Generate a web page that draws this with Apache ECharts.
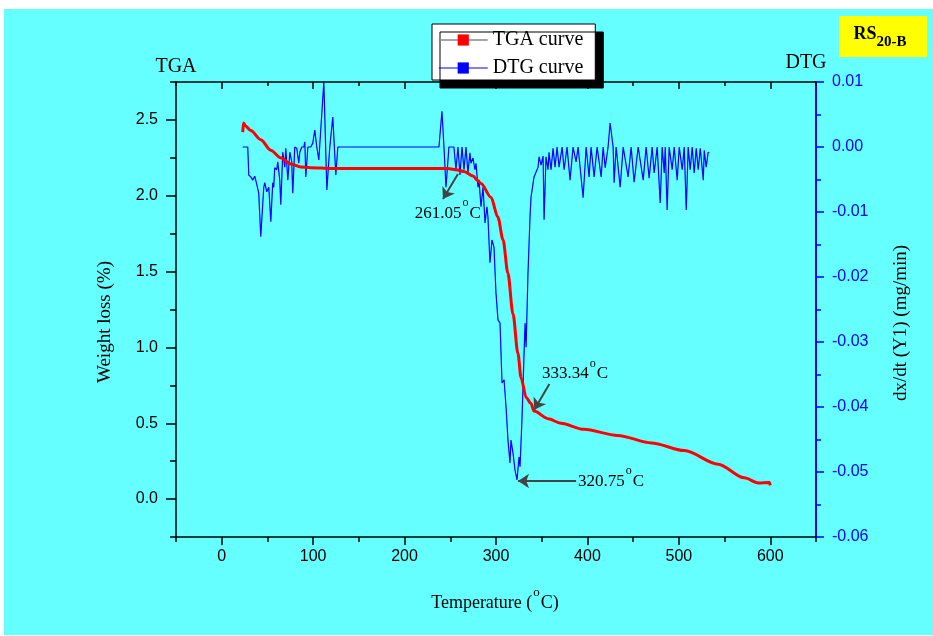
<!DOCTYPE html>
<html>
<head>
<meta charset="utf-8">
<title>TGA / DTG - RS20-B</title>
<script src="https://cdn.jsdelivr.net/npm/echarts@6/dist/echarts.min.js"></script>
<style>
  html, body { margin: 0; padding: 0; background: #ffffff; }
  .tga-dtg-container { position: relative; width: 933px; height: 636px; }
  .tga-dtg-bg { position: absolute; left: 4px; top: 9px; right: 0; bottom: 1px; background: #66ffff; }
  .tga-dtg-echarts { position: absolute; left: 0; top: 0; width: 933px; height: 636px; }
</style>
</head>
<body>
<div class="tga-dtg-container">
  <div class="tga-dtg-bg"></div>
  <div class="tga-dtg-echarts" id="chart"></div>
</div>
<script>
  // TGA curve: temperature (oC) / weight loss (%)
  const tgaTemp = [23, 23.8, 26, 31.8, 42.7, 53.6, 64.5, 75.5, 86.4, 97, 120, 160, 200, 247, 258, 265, 275, 280, 283.6,
    294.5, 302, 307.7, 313, 318.6, 324, 327.4, 333, 338.3, 341.6, 357, 371, 396, 433, 470, 506, 543, 571.5, 587, 599, 600];
  const tgaWeight = [2.42, 2.48, 2.46, 2.43, 2.37, 2.30, 2.25, 2.21, 2.19, 2.185, 2.18, 2.18, 2.18, 2.18, 2.17, 2.16, 2.13, 2.10, 2.08,
    1.99, 1.86, 1.71, 1.49, 1.22, 0.96, 0.80, 0.67, 0.63, 0.58, 0.53, 0.50, 0.46, 0.42, 0.37, 0.32, 0.23, 0.14, 0.106, 0.11, 0.09];

  // DTG curve: temperature (oC) / dx/dt (mg/min)
  const dtgTemp = [23, 28.5, 29.6, 31.8, 33.9, 36.1, 38.3, 40.5, 42.7, 46, 47.1, 49.3, 51.5, 53.7, 55.8, 56.9, 58, 60.2, 61.3,
    63.5, 64.6, 66.8, 69, 70.1, 72.3, 74.5, 76.6, 77.7, 79.9, 82.1, 84.3, 85.4, 87.6, 89.8, 90.9, 92, 94.2, 97.4, 99.6, 101.8,
    104, 106.2, 111.7, 115, 118.2, 121.5, 124.8, 127, 237.6, 240.9, 243.1, 245.3, 248.5, 254, 256.2, 258.4, 260.6, 262.8,
    265, 267.2, 269.3, 271.5, 272.6, 274.8, 277, 278.1, 280.3, 281.4, 283.6, 285.8, 288, 290.1, 291.2, 293.4, 295.6, 297.8,
    300, 302.2, 304.4, 306.6, 308.8, 311, 313.1, 315.3, 316.4, 318.6, 320.8, 323, 325.2, 326.3, 328.5, 330.7, 331.8, 332.9,
    335, 337.2, 338.3, 341.6, 346, 347.1, 349.3, 351.5, 352.6, 354.7, 356.9, 358, 360.2, 362.4, 364.6, 366.8, 369, 372.3,
    374.5, 377.7, 381, 384.3, 387.6, 389.8, 395.3, 398.6, 401.8, 404, 407.3, 410.6, 415, 417.2, 419.4, 422.6, 424.8, 428.1,
    429.2, 431.4, 435.8, 439.1, 444.5, 447.8, 451.1, 455.5, 461, 464.2, 467.5, 470.8, 473, 476.3, 479.6, 481.8, 484, 485.1,
    487.2, 489.4, 492.7, 494.9, 498.2, 500.4, 503.7, 505.9, 508.1, 510.2, 512.4, 514.6, 516.8, 519, 521.2, 523.4, 526.7,
    527.8, 529.9, 532.1, 533.2];
  const dtgRate = [0, 0, -0.0043, -0.0046, -0.0051, -0.0045, -0.0057, -0.0071, -0.0138, -0.0062, -0.0055, -0.0069, -0.0062,
    -0.0115, -0.0055, -0.0062, -0.0032, -0.0035, -0.0023, -0.0051, -0.0089, -0.0008, -0.0031, -0.0002, -0.0051, -0.0008,
    -0.0023, -0.0071, 0, -0.0002, -0.0025, -0.0008, 0, 0, 0.0008, -0.0046, 0, 0, 0.0006, 0.0026, 0, -0.002, 0.01, -0.0066,
    0, 0.0046, -0.0043, 0, 0, 0.0055, 0, -0.0062, 0, 0, -0.0035, 0, -0.0043, 0, -0.0035, 0, -0.004, -0.0009, -0.0025,
    -0.0017, -0.0035, -0.0025, -0.0062, -0.0051, -0.0092, -0.0062, -0.0117, -0.0092, -0.0108, -0.0178, -0.0143, -0.0154,
    -0.0225, -0.0266, -0.0271, -0.0363, -0.0358, -0.04, -0.0451, -0.0486, -0.0451, -0.0471, -0.0497, -0.0512, -0.0477,
    -0.0492, -0.0415, -0.0317, -0.0271, -0.0308, -0.0194, -0.0108, -0.0077, -0.0046, -0.0031, -0.0015, -0.0028, -0.0014,
    -0.0112, -0.0015, -0.0035, -0.0008, -0.0035, -0.0002, -0.0031, 0, -0.0031, 0, -0.0035, 0, -0.0051, 0, -0.0023, 0,
    -0.0078, 0, -0.0046, 0, -0.0046, 0, -0.0046, 0, -0.0032, 0, 0.0037, 0, -0.0055, 0, -0.0062, 0, -0.0046, 0, -0.0054,
    0, -0.0051, 0, -0.0048, 0, -0.004, 0, -0.0086, 0, -0.004, 0, -0.0097, 0, -0.0035, 0, -0.0051, 0, -0.0035, 0, -0.0097,
    0, -0.0035, 0, -0.004, -0.0002, -0.0035, -0.0002, -0.0051, -0.0005, -0.0031, -0.0008, -0.0009];

  // axis ticks
  const tempTicks = [0, 100, 200, 300, 400, 500, 600];
  const tempMinorTicks = [-50, 50, 150, 250, 350, 450, 550, 650];
  const weightTicks = [0, 0.5, 1, 1.5, 2, 2.5];
  const weightMinorTicks = [-0.25, 0.25, 0.75, 1.25, 1.75, 2.25, 2.75];
  const rateTicks = [-0.06, -0.05, -0.04, -0.03, -0.02, -0.01, 0, 0.01];
  const rateMinorTicks = [-0.055, -0.045, -0.035, -0.025, -0.015, -0.005, 0.005];

  // peak annotations (temperature, weight loss)
  const peakLabels = ['261.05', '333.34', '320.75'];
  const arrowFrom = [[258.4, 2.143], [358.4, 0.759], [387.6, 0.119]];
  const arrowTo = [[242, 1.978], [341.9, 0.589], [324.1, 0.119]];
  const labelAt = [[247.4, 1.885], [350.4, 0.827], [389.8, 0.119]];

  const serif = '"Liberation Serif", "Times New Roman", serif';
  const sans = '"Liberation Sans", Arial, sans-serif';

  const myChart = echarts.init(document.getElementById('chart'), null, { renderer: 'canvas' });

  const xBase = {
    type: 'value', min: -50, max: 650,
    splitLine: { show: false },
  };
  const yBase = { type: 'value', splitLine: { show: false } };
  const blackLine = { show: true, onZero: false, lineStyle: { color: '#000000', width: 1.5 } };
  const blueLine = { show: true, onZero: false, lineStyle: { color: '#0000ff', width: 2 } };
  const noLine = { show: false, onZero: false };

  const supRich = {
    n: { fontFamily: serif, fontSize: 17, fill: '#000000' },
    s: { fontFamily: serif, fontSize: 12, fill: '#000000', padding: [0, 1, 20, 1] },
  };

  myChart.setOption({
    animation: false,
    grid: { left: 176, right: 117, top: 82, bottom: 99 },
    legend: {
      orient: 'vertical',
      left: 432,
      top: 24,
      padding: [6, 12, 2, 6],
      itemWidth: 49,
      itemHeight: 14,
      itemGap: 8,
      backgroundColor: '#ffffff',
      borderColor: '#000000',
      borderWidth: 1,
      shadowColor: '#000000',
      shadowBlur: 0,
      shadowOffsetX: 8,
      shadowOffsetY: 8,
      textStyle: { fontFamily: serif, fontSize: 20, color: '#000000', lineHeight: 16 },
      data: [
        { name: 'TGA curve', itemStyle: { color: '#ff0000' }, lineStyle: { color: '#888888', width: 1.5 } },
        { name: 'DTG curve', itemStyle: { color: '#0000ff' }, lineStyle: { color: '#0000ff', width: 1 } },
      ],
    },
    xAxis: [
      {
        ...xBase, position: 'bottom',
        axisLine: blackLine,
        axisTick: { customValues: tempTicks, length: 8, lineStyle: { color: '#000000', width: 1.5 } },
        axisLabel: { customValues: tempTicks, margin: 12, fontFamily: sans, fontSize: 16, color: '#000000' },
      },
      {
        ...xBase, position: 'bottom',
        axisLine: noLine,
        axisTick: { customValues: tempMinorTicks, length: 5, lineStyle: { color: '#000000', width: 1.5 } },
        axisLabel: { show: false },
      },
      {
        ...xBase, position: 'top',
        axisLine: blackLine,
        axisTick: { customValues: tempTicks, inside: true, length: 7, lineStyle: { color: '#000000', width: 1.5 } },
        axisLabel: { show: false },
      },
      {
        ...xBase, position: 'top',
        axisLine: noLine,
        axisTick: { customValues: tempMinorTicks, inside: true, length: 4, lineStyle: { color: '#000000', width: 1.5 } },
        axisLabel: { show: false },
      },
    ],
    yAxis: [
      {
        ...yBase, position: 'left', min: -0.25, max: 2.75,
        axisLine: blackLine,
        axisTick: { customValues: weightTicks, length: 10, lineStyle: { color: '#000000', width: 1.5 } },
        axisLabel: {
          customValues: weightTicks, margin: 18, fontFamily: sans, fontSize: 16, color: '#000000',
          formatter: (v) => Number(v).toFixed(1),
        },
      },
      {
        ...yBase, position: 'left', min: -0.25, max: 2.75,
        axisLine: noLine,
        axisTick: { customValues: weightMinorTicks, length: 6, lineStyle: { color: '#000000', width: 1.5 } },
        axisLabel: { show: false },
      },
      {
        ...yBase, position: 'right', min: -0.06, max: 0.01,
        axisLine: blueLine,
        axisTick: { customValues: rateTicks, length: 8, lineStyle: { color: '#0000ff', width: 1.5 } },
        axisLabel: {
          customValues: rateTicks, margin: 16, fontFamily: sans, fontSize: 16, color: '#0000ff',
          formatter: (v) => Number(v).toFixed(2),
        },
      },
      {
        ...yBase, position: 'right', min: -0.06, max: 0.01,
        axisLine: noLine,
        axisTick: { customValues: rateMinorTicks, length: 5, lineStyle: { color: '#0000ff', width: 1.5 } },
        axisLabel: { show: false },
      },
    ],
    series: [
      {
        name: 'DTG curve',
        type: 'line',
        xAxisIndex: 0,
        yAxisIndex: 2,
        data: dtgTemp.map((t, i) => [t, dtgRate[i]]),
        symbol: 'rect',
        symbolSize: 10,
        showSymbol: false,
        lineStyle: { color: '#0000ff', width: 1.2 },
        itemStyle: { color: '#0000ff' },
        z: 2,
      },
      {
        name: 'TGA curve',
        type: 'line',
        xAxisIndex: 0,
        yAxisIndex: 0,
        data: tgaTemp.map((t, i) => [t, tgaWeight[i]]),
        symbol: 'rect',
        symbolSize: 10,
        showSymbol: false,
        smooth: 0.3,
        smoothMonotone: 'x',
        lineStyle: { color: '#ff0000', width: 3 },
        itemStyle: { color: '#ff0000' },
        z: 3,
        markLine: {
          silent: true,
          symbol: ['none', 'arrow'],
          symbolSize: 11,
          label: { show: false },
          lineStyle: { color: '#444444', width: 2, type: 'solid' },
          data: arrowFrom.map((p, i) => [{ coord: p }, { coord: arrowTo[i] }]),
        },
      },
    ],
  });

  const peakTexts = peakLabels.map((txt, i) => {
    const p = myChart.convertToPixel({ seriesIndex: 1 }, labelAt[i]);
    return {
      type: 'text',
      x: p[0],
      y: p[1],
      style: {
        text: `{n|${txt}}{s|o}{n|C}`,
        rich: supRich,
        align: i === 0 ? 'center' : 'left',
        verticalAlign: 'middle',
      },
    };
  });

  myChart.setOption({
    graphic: [
      {
        type: 'rect',
        shape: { x: 839, y: 16, width: 88, height: 41 },
        style: { fill: '#ffff00' },
      },
      {
        type: 'text',
        x: 880,
        y: 34,
        style: {
          text: '{a|RS}{b|20-B}',
          align: 'center',
          verticalAlign: 'middle',
          rich: {
            a: { fontFamily: serif, fontSize: 18, fontWeight: 'bold', fill: '#000000' },
            b: { fontFamily: serif, fontSize: 15, fontWeight: 'bold', fill: '#000000', padding: [16, 0, 0, 0] },
          },
        },
      },
      {
        type: 'text', x: 176, y: 67,
        style: { text: 'TGA', fontFamily: serif, fontSize: 20, fill: '#000000', align: 'center', verticalAlign: 'middle' },
      },
      {
        type: 'text', x: 806, y: 63,
        style: { text: 'DTG', fontFamily: serif, fontSize: 20, fill: '#000000', align: 'center', verticalAlign: 'middle' },
      },
      {
        type: 'text', x: 105, y: 322, rotation: Math.PI / 2,
        style: { text: 'Weight loss (%)', fontFamily: serif, fontSize: 19, fill: '#000000', align: 'center', verticalAlign: 'middle' },
      },
      {
        type: 'text', x: 901, y: 323, rotation: Math.PI / 2,
        style: { text: 'dx/dt (Y1) (mg/min)', fontFamily: serif, fontSize: 19, fill: '#000000', align: 'center', verticalAlign: 'middle' },
      },
      {
        type: 'text', x: 495, y: 603,
        style: {
          text: '{n|Temperature (}{s|o}{n|C)}',
          align: 'center',
          verticalAlign: 'middle',
          rich: {
            n: { fontFamily: serif, fontSize: 18, fill: '#000000' },
            s: { fontFamily: serif, fontSize: 13, fill: '#000000', padding: [0, 1, 20, 1] },
          },
        },
      },
      ...peakTexts,
    ],
  });

  window.addEventListener('resize', function () {
    myChart && myChart.resize();
  });
</script>
</body>
</html>
